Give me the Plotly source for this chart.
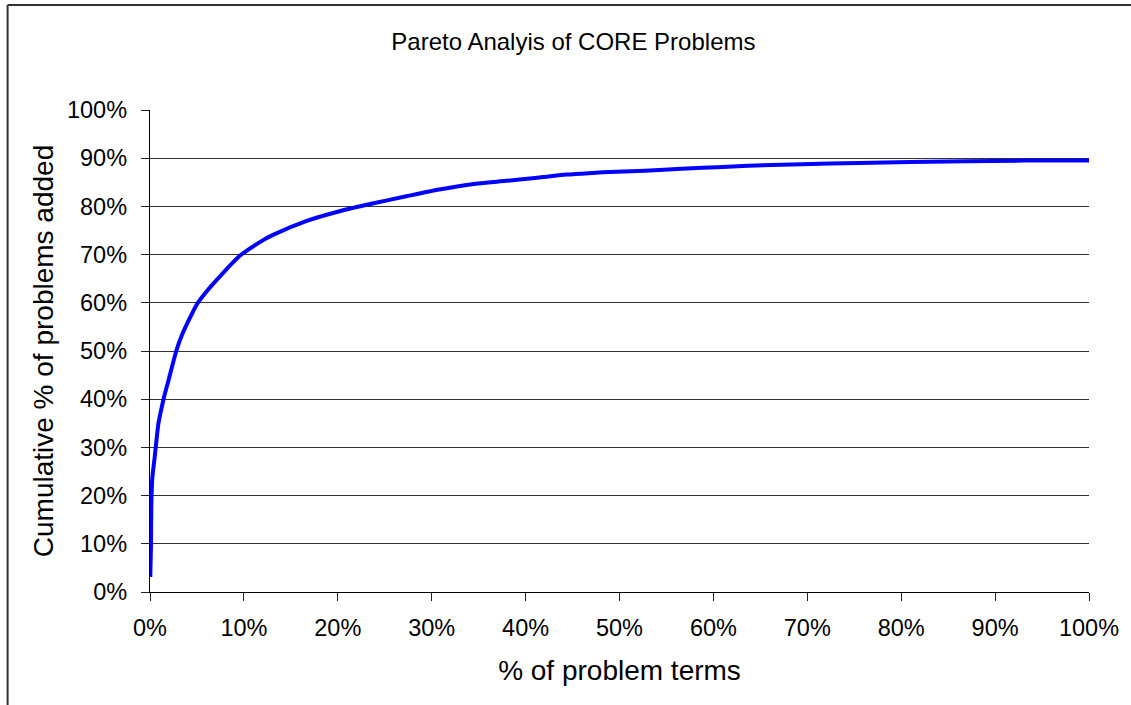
import plotly.graph_objects as go

# % of problem terms (x) and cumulative % of problems added (y)
pct_terms = [0.03, 0.1, 0.14, 0.24, 0.5, 0.67, 0.9, 1.27, 1.45, 1.97, 2.8, 3.4,
             5.0, 6.0, 7.5, 9.6, 12.05, 13.1, 16.7, 20.2, 23.7, 27.3, 30.8, 34.3,
             37.9, 41.0, 41.9, 44.4, 46.7, 49.7, 52.7, 56.6, 61.0, 66.2, 72.4,
             81.0, 93.0, 100.0]
cum_pct = [3.1, 9.3, 17.6, 23.5, 28.0, 31.1, 35.0, 38.5, 40.1, 43.9, 50.0, 53.3,
           59.7, 62.3, 65.6, 69.8, 73.0, 74.1, 77.0, 79.0, 80.6, 82.1, 83.5, 84.6,
           85.3, 85.9, 86.1, 86.6, 86.9, 87.2, 87.4, 87.8, 88.2, 88.6, 88.9,
           89.2, 89.5, 89.5]

tick_vals = [0, 10, 20, 30, 40, 50, 60, 70, 80, 90, 100]
tick_text = [f"{v}%" for v in tick_vals]

title_text = "Pareto Analyis of CORE Problems"
x_title = "% of problem terms"
y_title = "Cumulative % of problems added"

FONT = "Liberation Sans, Arial, sans-serif"
FS = 23.5

fig = go.Figure()
fig.add_trace(go.Scatter(
    x=pct_terms, y=cum_pct, mode="lines",
    line=dict(color="#0000FF", width=4, shape="spline", smoothing=0.7),
    hoverinfo="skip", showlegend=False,
))

fig.update_layout(
    width=1131, height=705,
    margin=dict(l=150, r=38, t=110, b=113),
    paper_bgcolor="white", plot_bgcolor="white",
    font=dict(family=FONT, size=FS, color="black"),
    title=dict(text=title_text, x=0.507, xanchor="center",
               y=1 - 42 / 705, yanchor="middle",
               font=dict(family=FONT, size=24, color="black")),
    showlegend=False,
)

fig.update_xaxes(
    range=[0, 100], tickvals=tick_vals, ticktext=tick_text,
    showgrid=False, zeroline=False,
    showline=True, linecolor="black", linewidth=1.2,
    ticks="outside", ticklen=8, tickcolor="#222", tickwidth=1,
    ticklabelstandoff=7,
    title=dict(text=x_title, standoff=20),
)
fig.update_yaxes(
    range=[0, 100], tickvals=tick_vals, ticktext=tick_text,
    showgrid=True, gridcolor="#333", gridwidth=1,
    zeroline=False,
    showline=True, linecolor="black", linewidth=1.2,
    ticks="outside", ticklen=8, tickcolor="#222", tickwidth=1,
    ticklabelstandoff=9,
    title=dict(text=y_title, standoff=5),
)

# outer chart frame (left and top edges visible, right/bottom beyond the page)
fig.add_shape(type="line", xref="paper", yref="paper",
              x0=(7 - 150) / 943, x1=(7 - 150) / 943,
              y0=(592 - 5) / 482, y1=(592 - 720) / 482,
              line=dict(color="#333", width=2))
fig.add_shape(type="line", xref="paper", yref="paper",
              x0=(7 - 150) / 943, x1=(1140 - 150) / 943,
              y0=(592 - 5) / 482, y1=(592 - 5) / 482,
              line=dict(color="#333", width=2))

fig.write_html("out.html", config={"displayModeBar": False, "staticPlot": True},
               post_script="document.body.style.margin='0';document.body.style.overflow='hidden';")
